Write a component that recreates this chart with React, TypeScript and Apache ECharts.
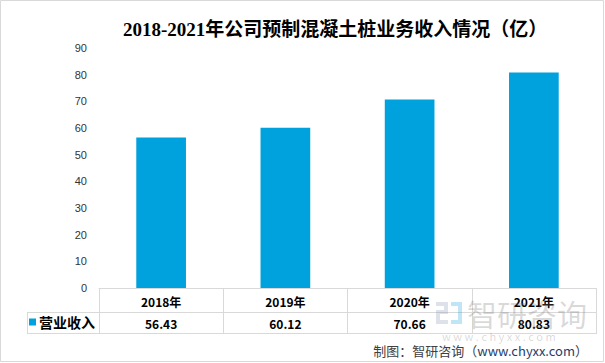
import React, { useEffect, useRef } from "react";
import * as echarts from "echarts";

const titleText = "2018-2021年公司预制混凝土桩业务收入情况（亿）";
const years = ["2018年", "2019年", "2020年", "2021年"];
const revenue = [56.43, 60.12, 70.66, 80.83];
const seriesName = "营业收入";
const yTicks = { min: 0, max: 90, interval: 10 };

export default function App() {
  const ref = useRef<HTMLDivElement>(null);
  useEffect(() => {
    if (!ref.current) return;
    const chart = echarts.init(ref.current, null, { renderer: "svg" });
    const sans = "'Noto Sans CJK SC', 'Liberation Sans', sans-serif";
    const grey = "#d9d9d9";
    const wmGrey = "rgba(120,120,120,0.28)";
    const wmBlue = "rgba(0,150,220,0.25)";
    const wmLogo = "rgba(120,140,170,0.25)";
    chart.setOption({
      animation: false,
      backgroundColor: "#ffffff",
      title: {
        text: titleText,
        left: 118,
        top: 15,
        textStyle: {
          fontFamily: "'Liberation Serif', 'Noto Sans CJK SC', serif",
          fontSize: 19,
          fontWeight: "bold",
          color: "#000",
        },
      },
      legend: {
        data: [seriesName],
        left: 29,
        top: 315,
        padding: 0,
        icon: "rect",
        itemWidth: 7,
        itemHeight: 7,
        itemGap: 2,
        selectedMode: false,
        textStyle: { fontFamily: sans, fontSize: 14, fontWeight: "bold", color: "#000", padding: [0, 0, 0, -2] },
      },
      grid: { left: 99, right: 9, top: 48, bottom: 75, containLabel: false },
      xAxis: {
        type: "category",
        data: years,
        boundaryGap: true,
        axisLine: { show: true, lineStyle: { color: grey } },
        axisTick: { show: true, length: 46, lineStyle: { color: grey } },
        axisLabel: {
          margin: 2,
          interval: 0,
          formatter: (v: string, i: number) => `{y|${v}}\n{v|${revenue[i].toFixed(2)}}`,
          rich: {
            y: { fontFamily: sans, fontSize: 12, fontWeight: "bold", color: "#000", lineHeight: 22 },
            v: { fontFamily: sans, fontSize: 12, fontWeight: "bold", color: "#000", lineHeight: 22 },
          },
        },
      },
      yAxis: {
        type: "value",
        min: yTicks.min,
        max: yTicks.max,
        interval: yTicks.interval,
        axisLine: { show: false },
        axisTick: { show: false },
        splitLine: { show: false },
        axisLabel: { margin: 12, fontFamily: "'Liberation Sans', sans-serif", fontSize: 11, color: "#333" },
      },
      series: [
        {
          name: seriesName,
          type: "bar",
          data: revenue,
          barWidth: "40%",
          itemStyle: { color: "#00a2de" },
        },
      ],
      graphic: [
        { type: "rect", shape: { x: 0.5, y: 0.5, width: 603, height: 361 }, style: { fill: "none", stroke: grey, lineWidth: 1 }, silent: true },
        { type: "line", shape: { x1: 27, y1: 312.5, x2: 596, y2: 312.5 }, style: { stroke: grey, lineWidth: 1 } },
        { type: "line", shape: { x1: 27, y1: 333.5, x2: 596, y2: 333.5 }, style: { stroke: grey, lineWidth: 1 } },
        { type: "line", shape: { x1: 27.5, y1: 312, x2: 27.5, y2: 334 }, style: { stroke: grey, lineWidth: 1 } },
        // watermark
        { type: "rect", z: 50, shape: { x: 436, y: 302, width: 12, height: 4 }, style: { fill: wmLogo } },
        { type: "rect", z: 50, shape: { x: 444, y: 306, width: 4, height: 4 }, style: { fill: wmLogo } },
        { type: "rect", z: 50, shape: { x: 436, y: 310, width: 12, height: 4 }, style: { fill: wmLogo } },
        { type: "rect", z: 50, shape: { x: 436, y: 314, width: 4, height: 6 }, style: { fill: wmLogo } },
        { type: "rect", z: 50, shape: { x: 436, y: 320, width: 12, height: 4 }, style: { fill: wmLogo } },
        { type: "rect", z: 50, shape: { x: 451, y: 302, width: 11, height: 4 }, style: { fill: wmBlue } },
        { type: "rect", z: 50, shape: { x: 458, y: 306, width: 4, height: 18 }, style: { fill: wmBlue } },
        { type: "rect", z: 50, shape: { x: 451, y: 320, width: 7, height: 4 }, style: { fill: wmBlue } },
        {
          type: "text", z: 50, x: 467, y: 298,
          style: { text: "智研咨询", fontFamily: sans, fontSize: 30, fill: wmGrey },
        },
        {
          type: "text", z: 50, x: 442, y: 330,
          style: { text: "w w w . c h y x x . c o m", fontFamily: sans, fontSize: 11, fill: wmGrey },
        },
        {
          type: "text", z: 60, x: 588, y: 350,
          style: {
            text: "{a|制图：智研咨询（}{b|www.chyxx.com}{a|）}",
            align: "right",
            verticalAlign: "middle",
            rich: {
              a: { fontFamily: sans, fontSize: 13, fill: "#404040" },
              b: { fontFamily: sans, fontSize: 13, fill: "#1f3d6b" },
            },
          },
        },
      ],
    });
    return () => chart.dispose();
  }, []);
  return <div ref={ref} style={{ position: "fixed", left: 0, top: 0, width: 605, height: 363 }} />;
}
